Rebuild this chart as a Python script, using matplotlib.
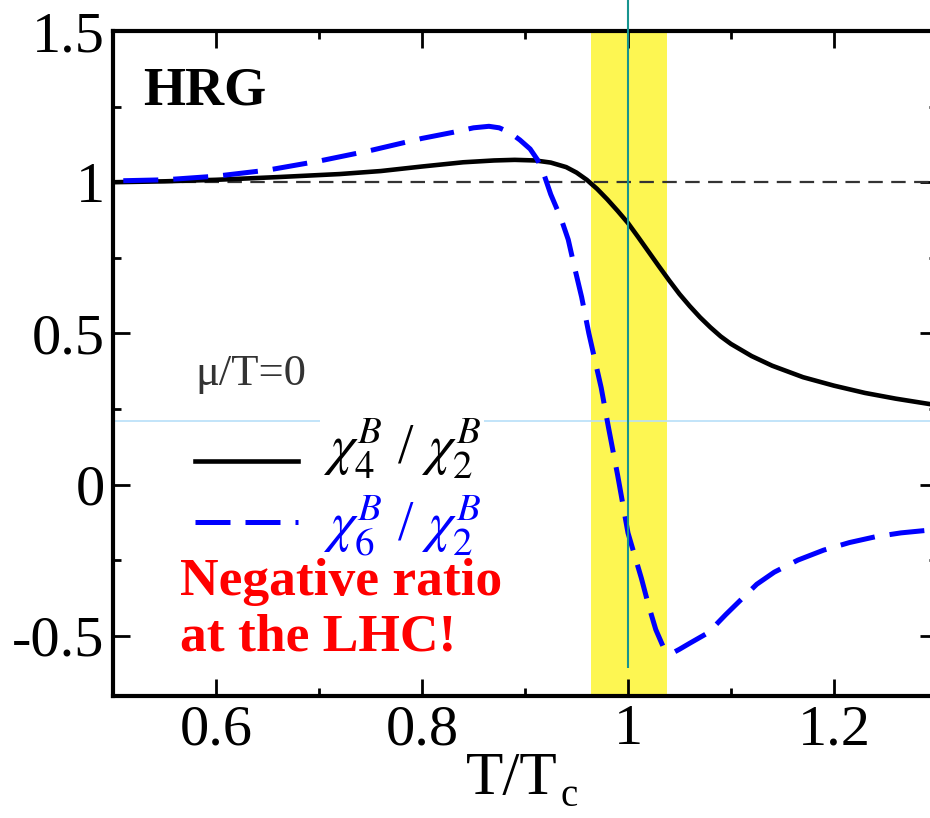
import numpy as np
import matplotlib.pyplot as plt
from matplotlib.ticker import FixedLocator, FixedFormatter, MultipleLocator

plt.rcParams['font.family'] = ['Liberation Serif', 'DejaVu Serif']
plt.rcParams['mathtext.fontset'] = 'stix'
plt.rcParams['axes.unicode_minus'] = False

# chi4/chi2 (black, solid)
t_chi4 = [0.50, 0.55, 0.60, 0.66, 0.72, 0.76, 0.80, 0.84, 0.87, 0.89, 0.91,
          0.925, 0.94, 0.95, 0.96, 0.97, 0.98, 0.99, 1.00, 1.01, 1.02, 1.03,
          1.04, 1.05, 1.06, 1.07, 1.08, 1.09, 1.10, 1.12, 1.14, 1.17, 1.20,
          1.23, 1.26, 1.295]
r_chi4 = [1.0, 1.003, 1.008, 1.017, 1.027, 1.037, 1.052, 1.066, 1.072, 1.074, 1.072,
          1.065, 1.05, 1.032, 1.008, 0.978, 0.943, 0.905, 0.865, 0.818, 0.77, 0.722,
          0.675, 0.63, 0.59, 0.553, 0.52, 0.49, 0.465, 0.425, 0.393, 0.355, 0.327,
          0.303, 0.284, 0.265]

# chi6/chi2 (blue, dashed)
t_chi6 = [0.51, 0.55, 0.60, 0.65, 0.70, 0.75, 0.80, 0.83, 0.85, 0.865, 0.875,
          0.885, 0.895, 0.905, 0.912, 0.918, 0.925, 0.935, 0.942, 0.948, 0.955,
          0.962, 0.968, 0.974, 0.981, 0.99, 1.00, 1.013, 1.02, 1.027, 1.034,
          1.04, 1.044, 1.05, 1.06, 1.078, 1.095, 1.11, 1.125, 1.142, 1.165,
          1.19, 1.215, 1.24, 1.265, 1.295]
r_chi6 = [1.005, 1.008, 1.02, 1.04, 1.07, 1.105, 1.145, 1.165, 1.18, 1.185, 1.18,
          1.165, 1.14, 1.11, 1.075, 1.03, 0.96, 0.88, 0.81, 0.72, 0.62,
          0.50, 0.41, 0.32, 0.19, 0.03, -0.16, -0.31, -0.40, -0.48, -0.535,
          -0.553, -0.556, -0.545, -0.525, -0.49, -0.43, -0.38, -0.33, -0.29, -0.25,
          -0.217, -0.192, -0.173, -0.16, -0.15]

x_ticks = [0.6, 0.8, 1.0, 1.2]
x_labels = ['0.6', '0.8', '1', '1.2']
y_ticks = [-0.5, 0.0, 0.5, 1.0, 1.5]
y_labels = ['-0.5', '0', '0.5', '1', '1.5']

tc_band = (0.964, 1.038)
tc = 1.0
tc_line_span = (-0.607, 1.61)
ref_level = 1.0
cyan_level = 0.21

fig = plt.figure(figsize=(9.3, 8.18), dpi=100)
ax = fig.add_axes([0.1215, 0.149, 0.886, 0.813])

ax.axvspan(tc_band[0], tc_band[1], color='#fdf652', lw=0, zorder=0)
ax.axhline(cyan_level, color='#b8dff8', lw=1.2, zorder=1)
ax.axhline(ref_level, color='#333333', lw=1.6, dashes=(6.5, 3.8), zorder=2)
ax.vlines(tc, tc_line_span[0], tc_line_span[1], color='#17948f', lw=1.5,
          clip_on=False, zorder=6)

l4, = ax.plot(t_chi4, r_chi4, color='black', lw=3.3, zorder=3)
l6, = ax.plot(t_chi6, r_chi6, color='#0000ff', lw=3.6, dashes=(7, 3), zorder=4)

ax.set_xlim(0.5, 1.3)
ax.set_ylim(-0.7, 1.5)
ax.xaxis.set_major_locator(FixedLocator(x_ticks))
ax.xaxis.set_major_formatter(FixedFormatter(x_labels))
ax.yaxis.set_major_locator(FixedLocator(y_ticks))
ax.yaxis.set_major_formatter(FixedFormatter(y_labels))
ax.xaxis.set_minor_locator(MultipleLocator(0.1))
ax.yaxis.set_minor_locator(MultipleLocator(0.25))
ax.tick_params(which='both', direction='in', top=True, right=True, width=2)
ax.tick_params(which='major', length=12, labelsize=42, pad=6)
ax.tick_params(which='minor', length=6)
for s in ax.spines.values():
    s.set_linewidth(3)

# x label: "T/T" with a deep subscript c
xlab = ax.set_xlabel('T/T', fontsize=44)
ax.xaxis.set_label_coords(0.484, -0.083)
ax.annotate('c', xy=(1, 0), xycoords=xlab, xytext=(2, -6),
            textcoords='offset points', fontsize=28, ha='left', va='bottom')

ax.text(0.036, 0.89, 'HRG', transform=ax.transAxes, fontsize=39,
        fontweight='bold', va='baseline', ha='left')
ax.text(0.081, 0.207, 'Negative ratio\nat the LHC!', transform=ax.transAxes,
        fontsize=38.5, fontweight='bold', color='#ff0000', va='top', ha='left',
        linespacing=1.2)
ax.text(0.0995, 0.468, 'μ/T=0', transform=ax.transAxes, fontsize=32,
        color='#333333', va='baseline', ha='left')

leg = ax.legend([l4, l6], [r'$\chi_4^B$ / $\chi_2^B$', r'$\chi_6^B$ / $\chi_2^B$'],
                loc='upper left', bbox_to_anchor=(0.0995, 0.397),
                frameon=False, fontsize=40, handlelength=1.85,
                handletextpad=0.45, labelspacing=-0.055, borderpad=0,
                borderaxespad=0)
t4, t6 = leg.get_texts()
t6.set_color('#0000ff')
t4.set_bbox(dict(facecolor='white', edgecolor='none', pad=2))
t4.set_y(16)  # first label sits higher than its line sample

fig.savefig('out.png', dpi=100)
